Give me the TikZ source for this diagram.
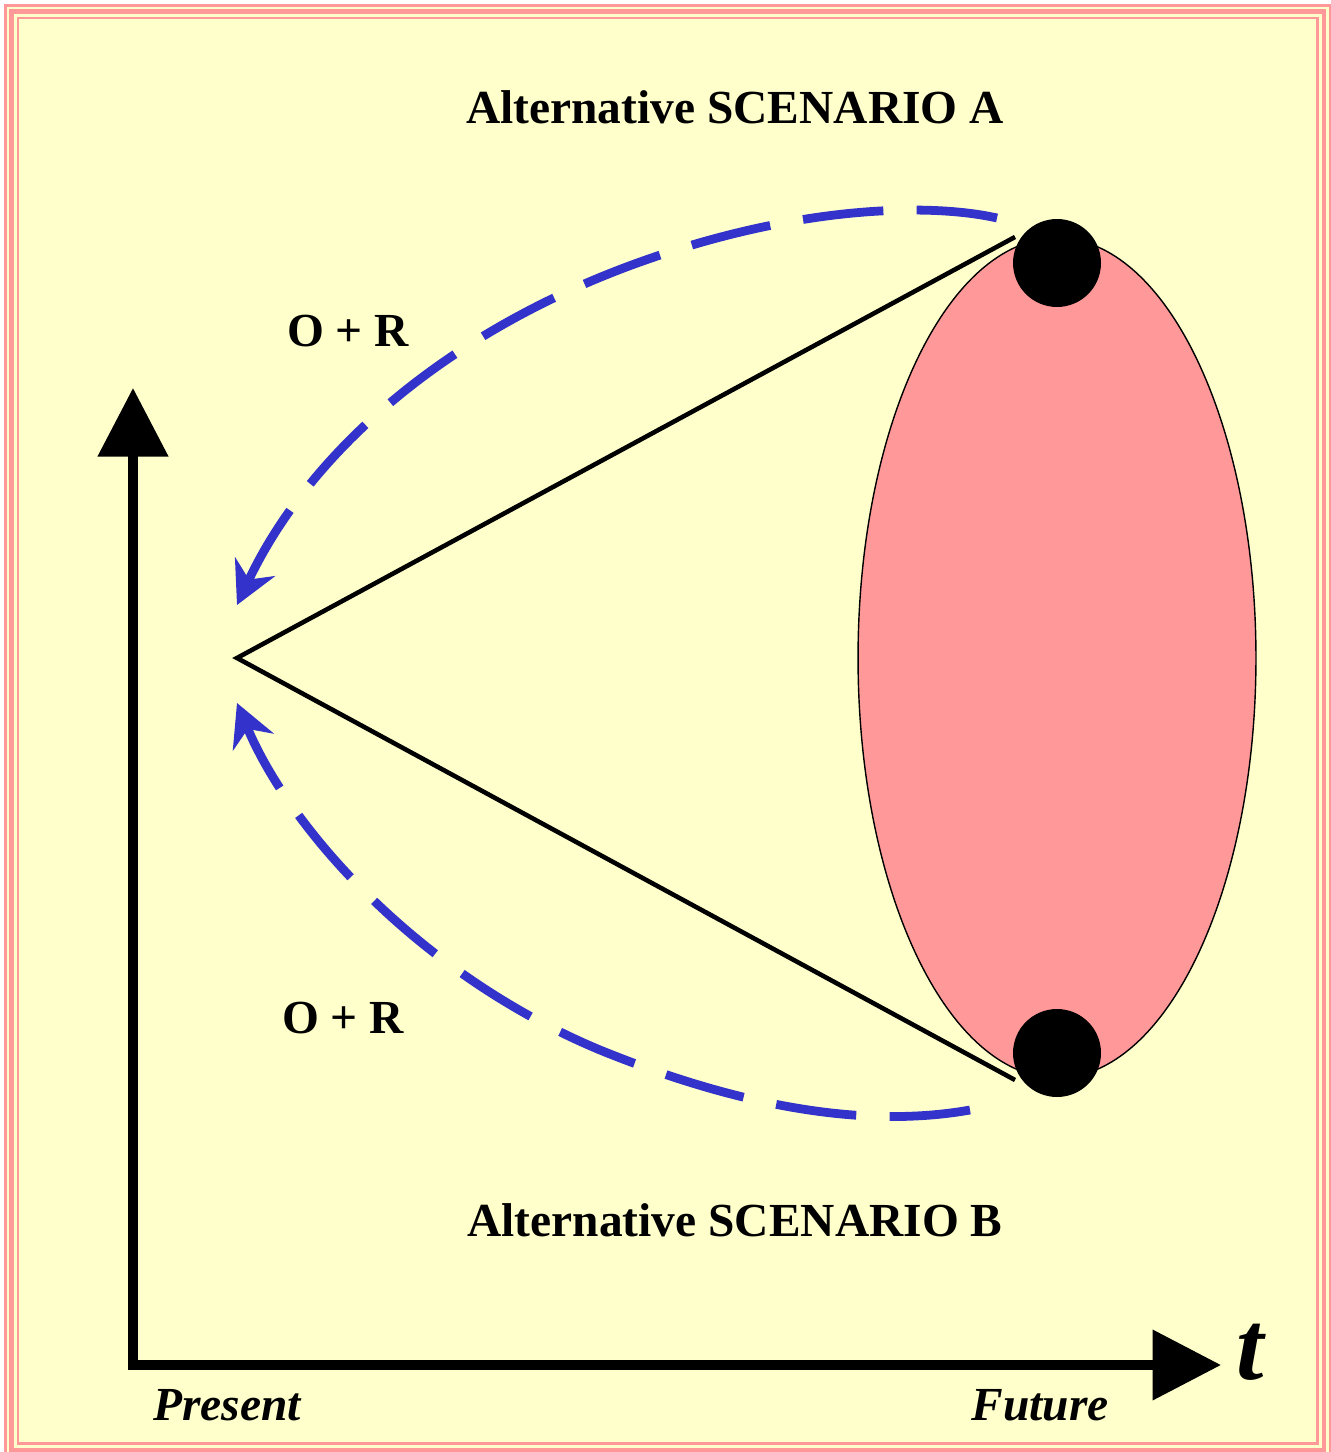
\documentclass[tikz,border=0pt]{standalone}
\usepackage{fontspec}
\setmainfont{Liberation Serif}
\usetikzlibrary{arrows.meta,shapes.geometric}
\definecolor{paleyellow}{HTML}{FFFFCC}
\definecolor{salmonpink}{HTML}{FF9999}
\definecolor{dashblue}{HTML}{3333CC}

\begin{document}
\begin{tikzpicture}[x=0.02cm,y=-0.02cm,every node/.style={font=\fontsize{27}{32}\selectfont\bfseries},axis/.style={line width=5.4pt,{Triangle[length=39pt,width=39pt]}-{Triangle[length=39pt,width=39pt]}},cone/.style={line width=2.6pt},orloop/.style={draw=dashblue,line width=5pt,dash pattern=on 46pt off 19pt,-{Stealth[length=24pt,width=25pt,inset=8pt]}},bigdot/.style={circle,fill=black,inner sep=0pt,minimum size=1.76cm},timelabel/.style={font=\fontsize{27}{32}\selectfont\bfseries\itshape}]
\useasboundingbox (0,0) rectangle (1330,1452);
\fill[white] (0,0) rectangle (1330,1452);
\fill[paleyellow] (5,5) rectangle (1330,1452);
\draw[salmonpink,line width=1.2pt] (5.5,5.5) rectangle (1330.5,1453);
\draw[salmonpink,line width=2.6pt] (11.5,11.5) rectangle (1324,1450);
\draw[salmonpink,line width=1.3pt] (18,18) rectangle (1317.5,1443.5);
% scenario cloud and cone
\node[ellipse,draw,fill=salmonpink,line width=0.8pt,minimum width=7.96cm,minimum height=16.8cm,inner sep=0pt] (future) at (1057,658) {};
\coordinate (present) at (237,658);\coordinate (conea) at (1015,237);\coordinate (coneb) at (1015,1080);
\draw[cone] (conea)--(present)--(coneb);
\node[bigdot] (dota) at (1057,263) {};\node[bigdot] (dotb) at (1057,1053) {};
% axes
\coordinate (origin) at (133,1365);\coordinate (ytip) at (133,388);\coordinate (xtip) at (1221,1365);
\draw[axis] (ytip)--(origin)--(xtip);
% O + R loops
\coordinate (starta) at (997,218);\coordinate (enda) at (237,605);
\coordinate (startb) at (970,1110);\coordinate (endb) at (237,703);
\draw[orloop] (starta) .. controls (930,203) and (800,205) .. (640,262) .. controls (450,330) and (310,450) .. (enda);
\draw[orloop] (startb) .. controls (880,1126) and (760,1115) .. (600,1050) .. controls (420,975) and (290,830) .. (endb);
% labels
\node (scena) at (735,107) {Alternative SCENARIO A};\node (scenb) at (735,1220) {Alternative SCENARIO B};
\node (ora) at (348,331) {O + R};\node (orb) at (343,1018) {O + R};
\node[timelabel] (now) at (227,1405) {Present};\node[timelabel] (later) at (1040,1405) {Future};
\node[font=\fontsize{56}{60}\selectfont\bfseries\itshape] (tlabel) at (1250,1352) {t};
\end{tikzpicture}
\end{document}
